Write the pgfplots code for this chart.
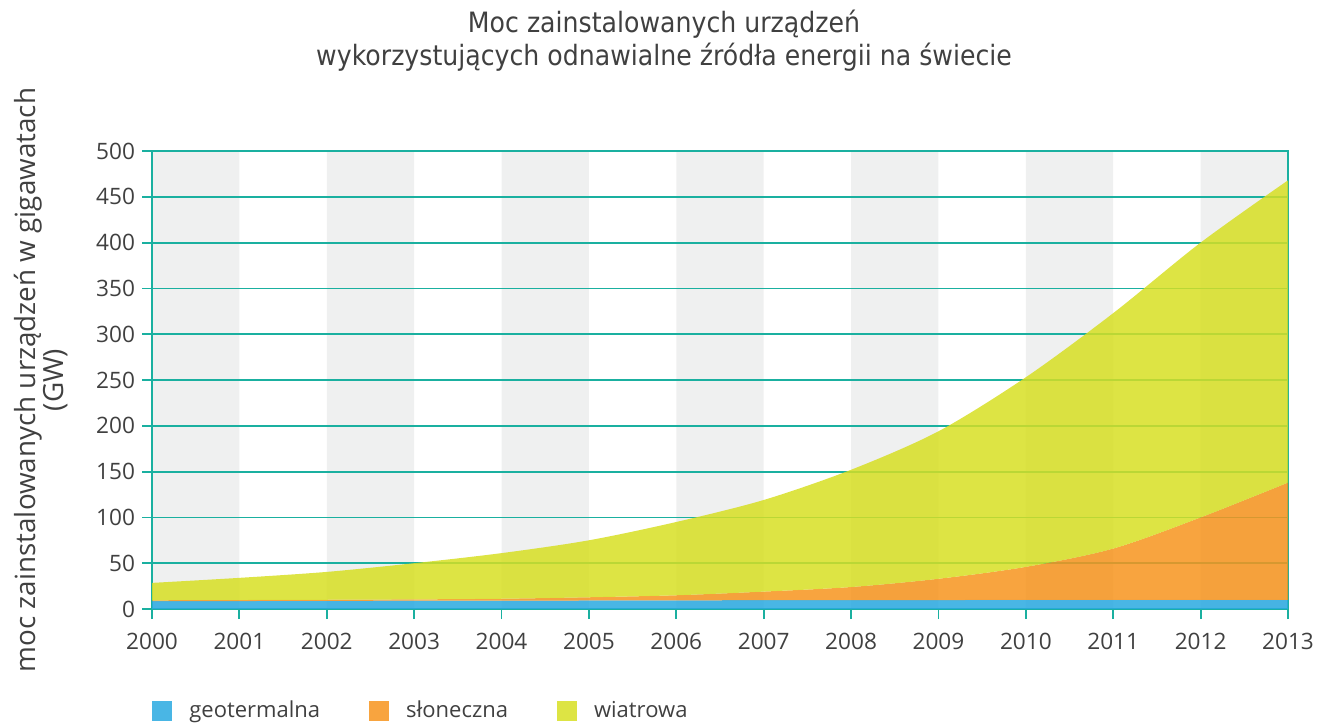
\documentclass[border=0pt]{standalone}
\usepackage{pgfplots}
\pgfplotsset{compat=1.18}
\usepgfplotslibrary{fillbetween}
\usepackage{pgfplotstable}
\usepackage{fontspec}
\setmainfont{Open Sans}
\newfontfamily\titlefont[FakeStretch=0.9]{DejaVu Sans}
\definecolor{teal1}{RGB}{26,176,160}
\definecolor{bandgray}{RGB}{239,240,240}
\definecolor{textgray}{RGB}{64,64,64}
\definecolor{cblue}{RGB}{41,169,225}
\definecolor{corange}{RGB}{247,148,29}
\definecolor{cyellow}{RGB}{215,223,35}

% cumulative tops of the stacked areas (GW)
\pgfplotstableread{
year geo solartop total
2000 8.5 9.5 28.5
2001 8.7 9.8 34
2002 8.9 10.1 40.5
2003 9.1 10.5 50
2004 9.2 11.2 61
2005 9.3 12.8 75
2006 9.5 15 95
2007 9.6 19 119
2008 9.7 24 152
2009 9.8 33 194
2010 9.9 46 253
2011 10 66 323
2012 10 100 400
2013 10 138 468
}\data

\pgfplotsset{sqlegend/.style={legend image code/.code={\fill[fill=#1] (0pt,-5pt) rectangle (10pt,5pt);}}}

\begin{document}
\begin{tikzpicture}
\begin{axis}[
  set layers,
  at={(0,0)}, anchor=south west,
  scale only axis, width=568pt, height=229pt,
  xmin=2000, xmax=2013, ymin=0, ymax=500,
  xtick={2000,2001,...,2013}, ytick={0,50,...,500},
  /pgf/number format/assume math mode=true,
  x tick label style={/pgf/number format/1000 sep={}, yshift=-3.5pt},
  ticklabel style={font=\fontsize{11.3}{13}\selectfont, text=textgray},
  axis line style={teal1, line width=0.9pt},
  ymajorgrids, grid style={teal1, line width=0.9pt},
  tick style={teal1, line width=0.9pt},
  tick align=outside, xtick pos=left, ytick pos=left,
  major tick length=5pt,
  legend style={at={(0,0)}, anchor=west, yshift=-51pt, draw=none, fill=none,
    inner sep=0pt, font=\fontsize{11}{13}\selectfont, text=textgray,
    /tikz/every odd column/.append style={column sep=6.5pt},
    /tikz/every even column/.append style={column sep=22.5pt}},
  legend columns=3,
]
\addplot[on layer=axis background, const plot, fill=bandgray, draw=none, forget plot]
  coordinates {(2000,500)(2001,0)(2002,500)(2003,0)(2004,500)(2005,0)(2006,500)(2007,0)(2008,500)(2009,0)(2010,500)(2011,0)(2012,500)(2013,500)} \closedcycle;

\addplot[name path=Z, draw=none, forget plot] coordinates {(2000,0)(2013,0)};
\addplot[name path=G, draw=none, smooth, forget plot] table[x=year,y=geo]{\data};
\addplot[name path=S, draw=none, smooth, forget plot] table[x=year,y=solartop]{\data};
\addplot[name path=T, draw=none, smooth, forget plot] table[x=year,y=total]{\data};

\addplot[fill=cblue, fill opacity=0.85, draw=none, sqlegend=cblue] fill between[of=G and Z];
\addlegendentry{geotermalna}
\addplot[fill=corange, fill opacity=0.85, draw=none, sqlegend=corange] fill between[of=S and G];
\addlegendentry{słoneczna}
\addplot[fill=cyellow, fill opacity=0.85, draw=none, sqlegend=cyellow] fill between[of=T and S];
\addlegendentry{wiatrowa}
\end{axis}

\node[align=center, text=textgray, font=\titlefont\fontsize{14}{16.5}\selectfont]
  at ([shift={(256pt,284pt)}]current axis.south west)
  {Moc zainstalowanych urządzeń\\wykorzystujących odnawialne źródła energii na świecie};
\node[align=center, text=textgray, rotate=90, font=\fontsize{13.9}{13}\selectfont]
  at ([shift={(-55.5pt,114.5pt)}]current axis.south west)
  {moc zainstalowanych urządzeń w gigawatach\\(GW)};

\pgfresetboundingbox
\path (-76pt,-57pt) rectangle (589.5pt,304.5pt);
\end{tikzpicture}
\end{document}
